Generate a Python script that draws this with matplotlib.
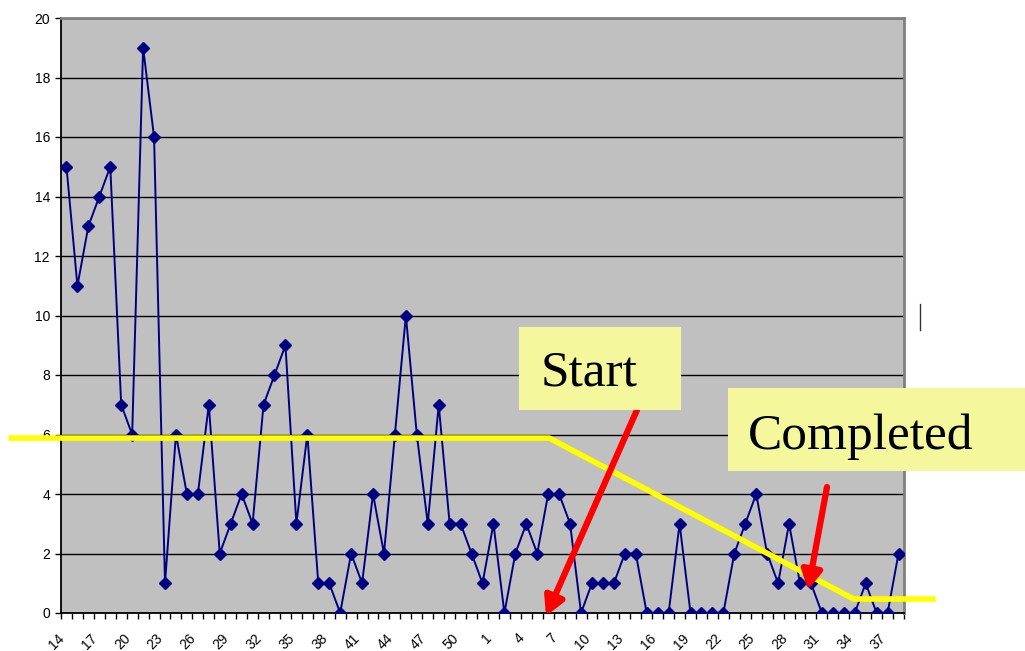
import matplotlib
matplotlib.use("Agg")
import matplotlib.pyplot as plt
import matplotlib.transforms as mtransforms
from matplotlib.patches import Rectangle
from matplotlib.lines import Line2D

# weeks: 14..52 then 1..38
weeks = [str(w) for w in range(14, 53)] + [str(w) for w in range(1, 39)]
counts = [15, 11, 13, 14, 15, 7, 6, 19, 16, 1, 6, 4, 4, 7, 2, 3, 4, 3, 7, 8,
          9, 3, 6, 1, 1, 0, 2, 1, 4, 2, 6, 10, 6, 3, 7, 3, 3, 2, 1,
          3, 0, 2, 3, 2, 4, 4, 3, 0, 1, 1, 1, 2, 2, 0, 0, 0, 3, 0, 0,
          0, 0, 2, 3, 4, 2, 1, 3, 1, 1, 0, 0, 0, 0, 1, 0, 0, 2]

# target (yellow) line, in data units
target_x = [-5.3, 44.1, 71.9, 79.4]
target_y = [5.88, 5.88, 0.47, 0.47]

W, H = 1025, 651
fig = plt.figure(figsize=(W / 100, H / 100), dpi=100)
fig.patch.set_facecolor("white")

# plot area in pixels: left 61, right 904, top 18, bottom 613
ax = fig.add_axes([61 / W, (H - 613) / H, 843 / W, 595 / H])
ax.set_facecolor("#C0C0C0")

x = list(range(len(weeks)))
ax.plot(x, counts, color="#000080", lw=1.4, marker="D", markersize=6,
        markerfacecolor="#000080", markeredgecolor="#000080", zorder=3)

ax.set_yticks(range(0, 21, 2))
ax.yaxis.grid(True, color="black", lw=1)
ax.set_axisbelow(True)

ax.set_xticks(x[::3])
ax.set_xticklabels(weeks[::3], rotation=45, ha="right", rotation_mode="anchor",
                   fontsize=10, family="Liberation Sans")
ax.set_xticks([i - 0.5 for i in x] + [len(weeks) - 0.5], minor=True)
ax.tick_params(axis="x", which="major", length=0, pad=13)
ax.tick_params(axis="x", which="minor", length=4, width=1, direction="out")
ax.tick_params(axis="y", length=4, width=1, direction="out", pad=4)
for lab in ax.get_yticklabels():
    lab.set_family("Liberation Sans")
    lab.set_fontsize(10)

# labels sit a little left of their category, like the Excel original
shift = mtransforms.ScaledTranslation(-9 / 100, 0, fig.dpi_scale_trans)
for lab in ax.get_xticklabels():
    lab.set_transform(lab.get_transform() + shift)

for side in ["top", "right"]:
    ax.spines[side].set_color("#808080")
    ax.spines[side].set_linewidth(2)
ax.spines["left"].set_color("black")
ax.spines["bottom"].set_color("black")
ax.spines["left"].set_linewidth(1.3)
ax.spines["bottom"].set_linewidth(1.3)

# yellow target line, runs past the plot area
ax.plot(target_x, target_y, color="#FFFF00", lw=4, clip_on=False, zorder=4,
        solid_capstyle="butt")
ax.set_xlim(-0.5, len(weeks) - 0.5)
ax.set_ylim(0, 20)


def fx(px):
    return px / W


def fy(py):
    return (H - py) / H


# red arrows
for (x0, y0), (x1, y1) in [((637, 410), (546, 616)), ((827, 487), (808, 590))]:
    fig.add_artist(plt.Annotation(
        "", xy=(fx(x1), fy(y1)), xytext=(fx(x0), fy(y0)),
        xycoords="figure fraction", textcoords="figure fraction",
        arrowprops=dict(arrowstyle="-|>,head_length=1.1,head_width=0.6",
                        color="#FF0000", lw=4.5, shrinkA=0, shrinkB=0),
        zorder=5))

# label boxes
box_color = "#F5F79D"
fig.add_artist(Rectangle((fx(519), fy(410)), fx(681) - fx(519), fy(327) - fy(410),
                         transform=fig.transFigure, facecolor=box_color,
                         edgecolor="none", zorder=6))
fig.text(fx(541), fy(386), "Start", fontsize=37, family="Liberation Serif",
         color="black", va="baseline", ha="left", zorder=7)

fig.add_artist(Rectangle((fx(728), fy(471)), fx(1025) - fx(728), fy(388) - fy(471),
                         transform=fig.transFigure, facecolor=box_color,
                         edgecolor="none", zorder=6))
fig.text(fx(748), fy(449), "Completed", fontsize=37, family="Liberation Serif",
         color="black", va="baseline", ha="left", zorder=7)

# stray cursor mark at right
fig.add_artist(Line2D([fx(920), fx(920)], [fy(304), fy(330)],
                      transform=fig.transFigure, color="#333333", lw=1))

fig.savefig("out.png", dpi=100)
